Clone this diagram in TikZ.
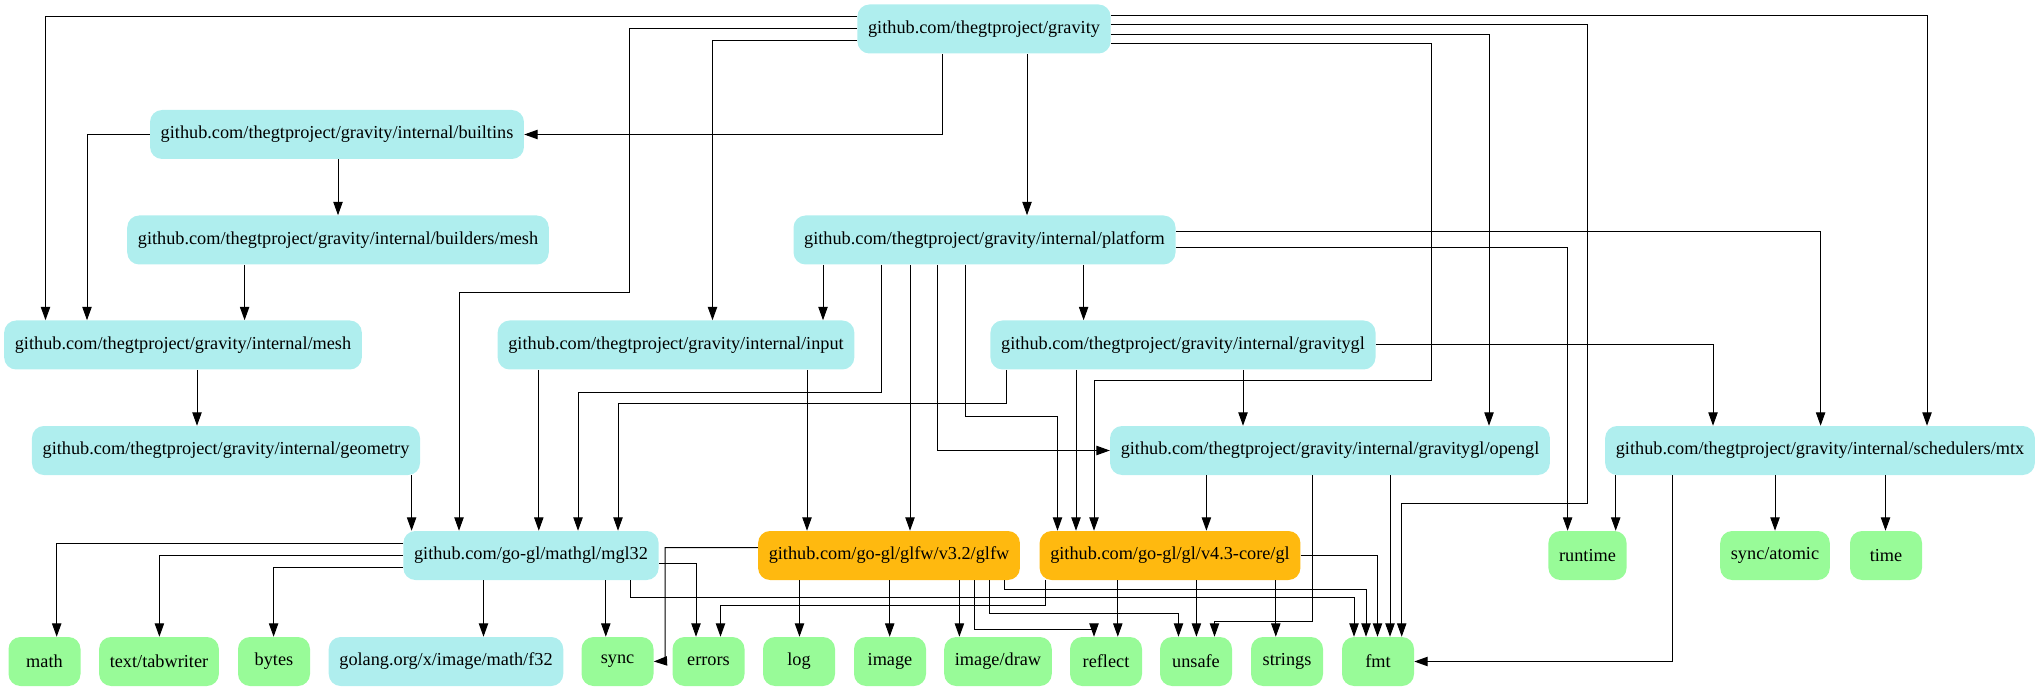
\documentclass[tikz,border=0pt]{standalone}
\usepackage{fontspec}
\setmainfont{Liberation Serif}
\usetikzlibrary{arrows.meta}
\definecolor{paleturq}{HTML}{AFEEEE}
\definecolor{palegrn}{HTML}{98FB98}
\definecolor{goldnrod}{HTML}{FFB90F}
\tikzset{>={Triangle[length=10pt,width=7pt]}}
\tikzset{pkg/.style={rounded corners=9pt, fill=paleturq, minimum height=36.75pt, minimum width=54pt, inner xsep=8pt, font=\fontsize{13.7}{16}\selectfont}}
\tikzset{ext/.style={pkg, fill=palegrn}}
\tikzset{cgo/.style={pkg, fill=goldnrod}}
\tikzset{dep/.style={->, line width=0.75pt}}

\begin{document}
\begin{tikzpicture}[x=0.75pt, y=-0.75pt]
    \useasboundingbox (0,0) rectangle (2041,691);
    \node[pkg] (gravity) at (984,29) {github.com/thegtproject/gravity};
    \node[pkg] (builtins) at (337,134.5) {github.com/thegtproject/gravity/internal/builtins};
    \node[pkg] (bmesh) at (338,240) {github.com/thegtproject/gravity/internal/builders/mesh};
    \node[pkg] (platform) at (984.5,240) {github.com/thegtproject/gravity/internal/platform};
    \node[pkg] (mesh) at (183,345) {github.com/thegtproject/gravity/internal/mesh};
    \node[pkg] (input) at (676,345) {github.com/thegtproject/gravity/internal/input};
    \node[pkg] (gravitygl) at (1183,345) {github.com/thegtproject/gravity/internal/gravitygl};
    \node[pkg] (geometry) at (226,450.5) {github.com/thegtproject/gravity/internal/geometry};
    \node[pkg] (opengl) at (1330,450.5) {github.com/thegtproject/gravity/internal/gravitygl/opengl};
    \node[pkg] (mtx) at (1820,450.5) {github.com/thegtproject/gravity/internal/schedulers/mtx};
    \node[pkg] (mgl) at (531,555.5) {github.com/go-gl/mathgl/mgl32};
    \node[cgo] (glfw) at (889,555.5) {github.com/go-gl/glfw/v3.2/glfw};
    \node[cgo] (gl) at (1170,555.5) {github.com/go-gl/gl/v4.3-core/gl};
    \node[ext] (runtime) at (1587.5,555.5) {runtime};
    \node[ext] (atomic) at (1775,555.5) {sync/atomic};
    \node[ext] (time) at (1886,555.5) {time};
    \node[ext] (math) at (44.5,661.5) {math};
    \node[ext] (tabwriter) at (159,661.5) {text/tabwriter};
    \node[ext] (bytes) at (274,661.5) {bytes};
    \node[pkg] (f32) at (446,661.5) {golang.org/x/image/math/f32};
    \node[ext] (sync) at (617.5,661.5) {sync};
    \node[ext] (errors) at (708.5,661.5) {errors};
    \node[ext] (log) at (799,661.5) {log};
    \node[ext] (image) at (890,661.5) {image};
    \node[ext] (draw) at (998,661.5) {image/draw};
    \node[ext] (reflect) at (1106,661.5) {reflect};
    \node[ext] (unsafe) at (1196,661.5) {unsafe};
    \node[ext] (strings) at (1287,661.5) {strings};
    \node[ext] (fmt) at (1378,661.5) {fmt};

    \draw[dep] (gravity.west |- 0,17) -| (mesh.north -| 45.5,0);
    \draw[dep] (gravity.west |- 0,29) -| (629.5,293) -| (mgl.north -| 459,0);
    \draw[dep] (gravity.west |- 0,41) -| (input.north -| 712.5,0);
    \draw[dep] (gravity.south -| 942,0) |- (builtins.east);
    \draw[dep] (gravity.south -| 1027,0) -- (platform.north -| 1027,0);
    \draw[dep] (gravity.east |- 0,15.7) -| (mtx.north -| 1927,0);
    \draw[dep] (gravity.east |- 0,25) -| (1587,503) -| (fmt.north -| 1401.7,0);
    \draw[dep] (gravity.east |- 0,34.3) -| (opengl.north -| 1489,0);
    \draw[dep] (gravity.east |- 0,43.7) -| (1431.6,381) -| (gl.north -| 1094,0);
    \draw[dep] (builtins.south -| 338,0) -- (bmesh.north -| 338,0);
    \draw[dep] (builtins.west) -| (mesh.north -| 87,0);
    \draw[dep] (bmesh.south -| 244.6,0) -- (mesh.north -| 244.6,0);
    \draw[dep] (mesh.south -| 197,0) -- (geometry.north -| 197,0);
    \draw[dep] (geometry.south -| 411.6,0) -- (mgl.north -| 411.6,0);
    \draw[dep] (platform.south -| 823,0) -- (input.north -| 823,0);
    \draw[dep] (platform.south -| 881.5,0) |- (578,392.7) -- (mgl.north -| 578,0);
    \draw[dep] (platform.south -| 910,0) -- (glfw.north -| 910,0);
    \draw[dep] (platform.south -| 937.5,0) |- (opengl.west);
    \draw[dep] (platform.south -| 965,0) |- (1057.5,416) -- (gl.north -| 1057.5,0);
    \draw[dep] (platform.south -| 1083.6,0) -- (gravitygl.north -| 1083.6,0);
    \draw[dep] (platform.east |- 0,231.7) -| (mtx.north -| 1820.6,0);
    \draw[dep] (platform.east |- 0,247.7) -| (runtime.north -| 1567.6,0);
    \draw[dep] (input.south -| 538.8,0) -- (mgl.north -| 538.8,0);
    \draw[dep] (input.south -| 807,0) -- (glfw.north -| 807,0);
    \draw[dep] (gravitygl.south -| 1006.5,0) |- (618,403.5) -- (mgl.north -| 618,0);
    \draw[dep] (gravitygl.south -| 1076,0) -- (gl.north -| 1076,0);
    \draw[dep] (gravitygl.south -| 1243,0) -- (opengl.north -| 1243,0);
    \draw[dep] (gravitygl.east) -| (mtx.north -| 1713,0);
    \draw[dep] (opengl.south -| 1206.4,0) -- (gl.north -| 1206.4,0);
    \draw[dep] (opengl.south -| 1312,0) |- (1214.5,621) -- (unsafe.north -| 1214.5,0);
    \draw[dep] (opengl.south -| 1390,0) -- (fmt.north -| 1390,0);
    \draw[dep] (mtx.south -| 1615.7,0) -- (runtime.north -| 1615.7,0);
    \draw[dep] (mtx.south -| 1775,0) -- (atomic.north -| 1775,0);
    \draw[dep] (mtx.south -| 1885.5,0) -- (time.north -| 1885.5,0);
    \draw[dep] (mtx.south -| 1672.6,0) |- (fmt.east);
    \draw[dep] (mgl.west |- 0,543.7) -| (math.north -| 56.7,0);
    \draw[dep] (mgl.west |- 0,555.7) -| (tabwriter.north -| 159.4,0);
    \draw[dep] (mgl.west |- 0,567.7) -| (bytes.north -| 273.6,0);
    \draw[dep] (mgl.south -| 483.5,0) -- (f32.north -| 483.5,0);
    \draw[dep] (mgl.south -| 605.8,0) -- (sync.north -| 605.8,0);
    \draw[dep] (mgl.south -| 630,0) |- (1354,597) -- (fmt.north -| 1354,0);
    \draw[dep] (mgl.east |- 0,563.7) -| (errors.north -| 696,0);
    \draw[dep] (glfw.west |- 0,547.7) -| (665,661) -- (sync.east);
    \draw[dep] (glfw.south -| 799.5,0) -- (log.north -| 799.5,0);
    \draw[dep] (glfw.south -| 889.7,0) -- (image.north -| 889.7,0);
    \draw[dep] (glfw.south -| 959.4,0) -- (draw.north -| 959.4,0);
    \draw[dep] (glfw.south -| 974.5,0) |- (1094,629) -- (reflect.north -| 1094,0);
    \draw[dep] (glfw.south -| 989.7,0) |- (1178.5,613) -- (unsafe.north -| 1178.5,0);
    \draw[dep] (glfw.south -| 1004.5,0) |- (1366,589) -- (fmt.north -| 1366,0);
    \draw[dep] (gl.south -| 1045,0) |- (720.5,605) -- (errors.north -| 720.5,0);
    \draw[dep] (gl.south -| 1117.8,0) -- (reflect.north -| 1117.8,0);
    \draw[dep] (gl.south -| 1196.4,0) -- (unsafe.north -| 1196.4,0);
    \draw[dep] (gl.south -| 1275.8,0) -- (strings.north -| 1275.8,0);
    \draw[dep] (gl.east) -| (fmt.north -| 1377.5,0);
\end{tikzpicture}
\end{document}
